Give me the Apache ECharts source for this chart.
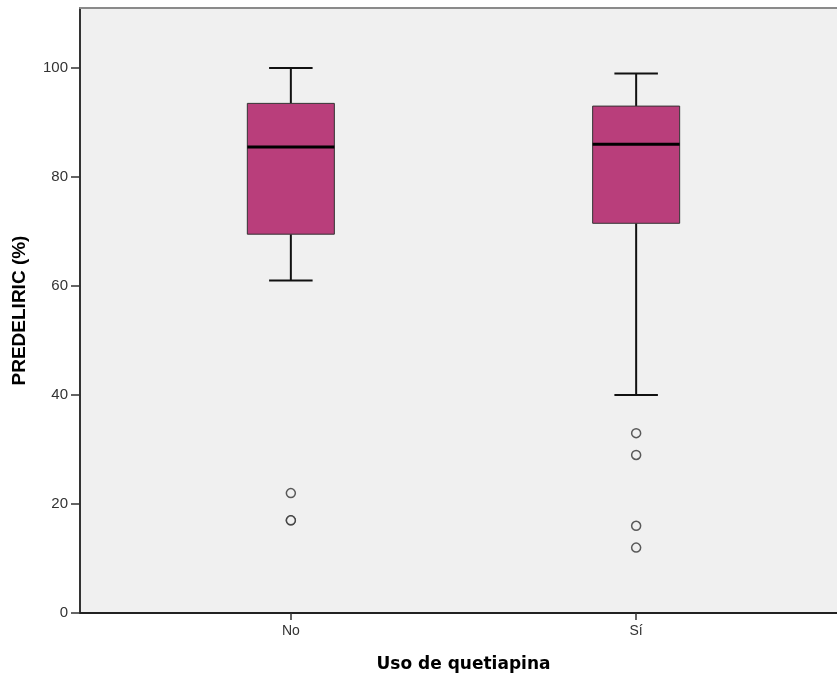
<!DOCTYPE html>
<html>
<head>
<meta charset="utf-8">
<script src="https://cdn.jsdelivr.net/npm/echarts@6/dist/echarts.min.js"></script>
<style>html,body{margin:0;padding:0;background:#fff}#c{width:837px;height:679px}</style>
</head>
<body>
<div id="c"></div>
<script>
// Data
const categories = ['No', 'Sí'];
// [min whisker, Q1, median, Q3, max whisker]
const boxNo = [61, 69.5, 85.5, 93.5, 100];
const boxSi = [40, 71.5, 86, 93, 99];
const outliersNo = [22, 17, 17];
const outliersSi = [33, 29, 16, 12];
const yTicks = [0, 20, 40, 60, 80, 100];
const yMax = 111;

const boxData = [[0].concat(boxNo), [1].concat(boxSi)];
const outlierData = outliersNo.map(v => [0, v]).concat(outliersSi.map(v => [1, v]));

const chart = echarts.init(document.getElementById('c'));
const labelFont = 'Liberation Sans, Arial, sans-serif';

chart.setOption({
  animation: false,
  backgroundColor: '#ffffff',
  grid: [
    { left: 80, right: 0, top: 8, bottom: 66, show: true, backgroundColor: '#f0f0f0', borderWidth: 0 },
    { left: 118.2, width: 690.6, top: 8, bottom: 66 }
  ],
  xAxis: [
    { gridIndex: 0, type: 'value', min: 0, max: 1,
      axisLine: { show: true, lineStyle: { color: '#222', width: 2 } },
      axisTick: { show: false }, axisLabel: { show: false }, splitLine: { show: false } },
    { gridIndex: 1, type: 'category', data: categories,
      axisLine: { show: false },
      axisTick: { show: true, alignWithLabel: true, length: 7, lineStyle: { color: '#333', width: 1.5 } },
      axisLabel: { color: '#333', fontSize: 14, fontFamily: labelFont, margin: 11 },
      splitLine: { show: false },
      name: 'Uso de quetiapina', nameLocation: 'middle', nameGap: 43,
      nameTextStyle: { color: '#000', fontSize: 17, fontWeight: 'bold', fontFamily: 'DejaVu Sans, sans-serif' } },
    { gridIndex: 0, type: 'value', position: 'top', min: 0, max: 1,
      axisLine: { show: true, lineStyle: { color: '#8a8a8a', width: 2 } },
      axisTick: { show: false }, axisLabel: { show: false }, splitLine: { show: false } }
  ],
  yAxis: [
    { gridIndex: 0, type: 'value', min: 0, max: yMax,
      axisLine: { show: true, lineStyle: { color: '#333', width: 2 } },
      axisTick: { show: true, customValues: yTicks, length: 9, lineStyle: { color: '#333', width: 1.5 } },
      axisLabel: { customValues: yTicks, color: '#333', fontSize: 15, fontFamily: labelFont, margin: 12 },
      splitLine: { show: false },
      name: 'PREDELIRIC (%)', nameLocation: 'middle', nameGap: 51,
      nameTextStyle: { color: '#000', fontSize: 19, fontWeight: 'bold', fontFamily: labelFont } },
    { gridIndex: 1, type: 'value', min: 0, max: yMax, show: false }
  ],
  series: [
    {
      type: 'custom', xAxisIndex: 1, yAxisIndex: 1,
      data: boxData,
      renderItem: function (params, api) {
        const x = api.value(0);
        const band = api.size([1, 0])[0];
        const bw = band * 0.252;
        const cw = bw / 2;
        const pMin = api.coord([x, api.value(1)]);
        const pQ1 = api.coord([x, api.value(2)]);
        const pMed = api.coord([x, api.value(3)]);
        const pQ3 = api.coord([x, api.value(4)]);
        const pMax = api.coord([x, api.value(5)]);
        const cx = pMed[0];
        const wStyle = { stroke: '#111', lineWidth: 2 };
        return {
          type: 'group',
          children: [
            { type: 'line', shape: { x1: cx, y1: pMin[1], x2: cx, y2: pQ1[1] }, style: wStyle },
            { type: 'line', shape: { x1: cx, y1: pQ3[1], x2: cx, y2: pMax[1] }, style: wStyle },
            { type: 'line', shape: { x1: cx - cw / 2, y1: pMin[1], x2: cx + cw / 2, y2: pMin[1] }, style: wStyle },
            { type: 'line', shape: { x1: cx - cw / 2, y1: pMax[1], x2: cx + cw / 2, y2: pMax[1] }, style: wStyle },
            { type: 'rect', shape: { x: cx - bw / 2, y: pQ3[1], width: bw, height: pQ1[1] - pQ3[1] },
              style: { fill: '#b93e7b', stroke: '#333', lineWidth: 1 } },
            { type: 'line', shape: { x1: cx - bw / 2, y1: pMed[1], x2: cx + bw / 2, y2: pMed[1] },
              style: { stroke: '#000', lineWidth: 3 } }
          ]
        };
      }
    },
    {
      type: 'scatter', xAxisIndex: 1, yAxisIndex: 1,
      data: outlierData,
      symbol: 'circle', symbolSize: 9,
      itemStyle: { color: '#f0f0f0', borderColor: '#333', borderWidth: 1.5 }
    }
  ]
});
</script>
</body>
</html>
